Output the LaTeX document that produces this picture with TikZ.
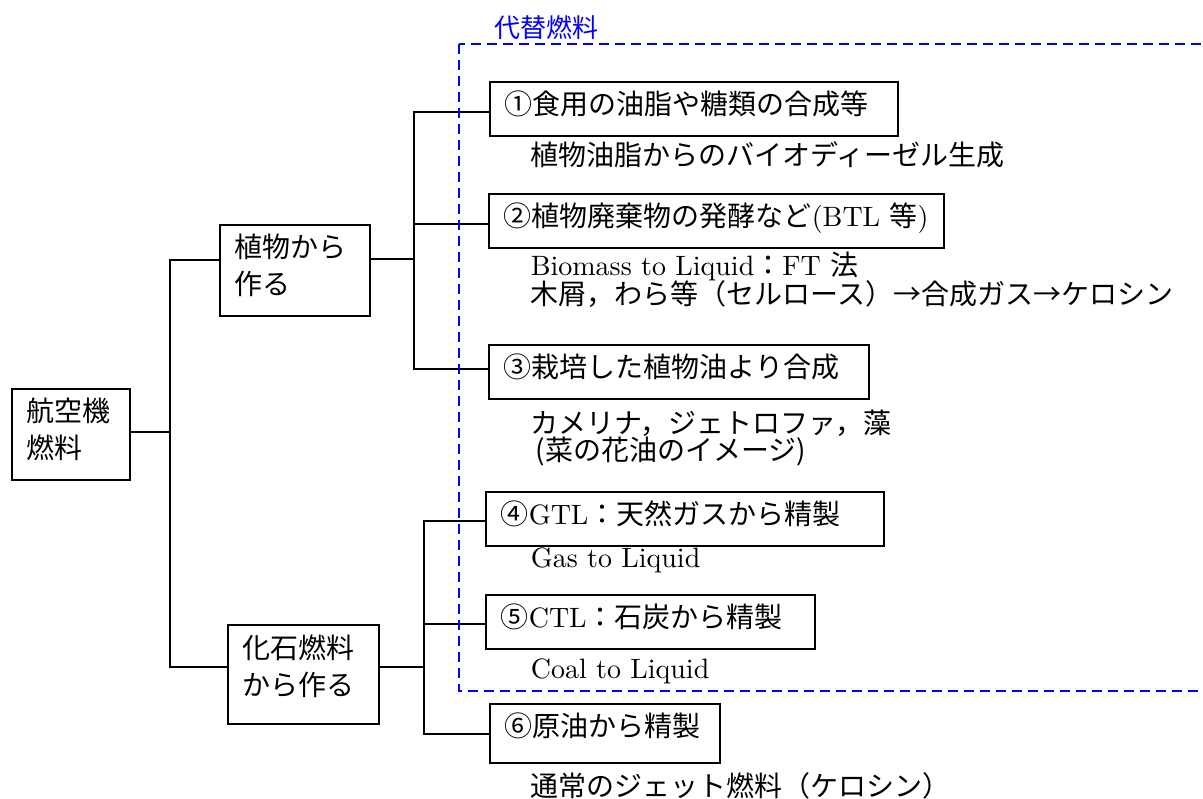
\documentclass[tikz,border=0pt]{standalone}
\usepackage{fontspec}
\setmainfont{lmroman10-regular.otf}
\newfontfamily\jp{Noto Sans CJK JP}
\newcommand{\txt}{\fontsize{28}{37}\selectfont}

\begin{document}
\begin{tikzpicture}[x=1pt, y=-1pt, line width=1.6pt,
    box/.style={draw, anchor=north west, font=\txt, align=left, inner xsep=15pt, inner ysep=0pt, text width=#1},
    leaf/.style={box=#1, minimum height=54pt, text height=22pt, text depth=10pt},
    jp/.style={font=\txt\jp},
    note/.style={anchor=base west, font=\txt, inner sep=0pt},
    alt/.style={blue, dash pattern=on 10pt off 6pt}]
    \useasboundingbox (0,0) rectangle (1203,799);

    \node[box=88, jp, minimum height=91pt, text height=24pt, text depth=49pt] (fuel) at (11,388) {航空機\\燃料};
    \node[box=120, jp, minimum height=91pt, text height=24pt, text depth=49pt] (plant) at (219,224) {植物から\\作る};
    \node[box=121, jp, minimum height=99pt, text height=24pt, text depth=56pt] (fossil) at (227,624) {化石燃料\\から作る};

    \node[leaf=378, jp] (b1) at (489,81) {①食用の油脂や糖類の合成等};
    \node[leaf=425] (b2) at (488,193) {{\jp ②植物廃棄物の発酵など}(BTL {\jp 等})};
    \node[leaf=350, jp] (b3) at (488,344) {③栽培した植物油より合成};
    \node[leaf=368] (b4) at (485,491) {{\jp ④}GTL{\jp ：天然ガスから精製}};
    \node[leaf=299] (b5) at (485,594) {{\jp ⑤}CTL{\jp ：石炭から精製}};
    \node[leaf=200, jp, minimum height=59pt, text depth=16pt] (b6) at (489,703) {⑥原油から精製};

    \node[note, jp] (n1) at (530,166) {植物油脂からのバイオディーゼル生成};
    \node[note] (n2a) at (530,276) {Biomass to Liquid{\jp ：}FT {\jp 法}};
    \node[note, jp] (n2b) at (530,305) {木屑，わら等（セルロース）→合成ガス→ケロシン};
    \node[note, jp] (n3a) at (530,434) {カメリナ，ジェトロファ，藻};
    \node[note, jp] (n3b) at (535,461) {(菜の花油のイメージ)};
    \node[note] (n4) at (530,567) {Gas to Liquid};
    \node[note] (n5) at (530,678) {Coal to Liquid};
    \node[note, jp] (n6) at (530,796) {通常のジェット燃料（ケロシン）};

    \coordinate (r0) at (170,432);
    \coordinate (r1) at (170,260);
    \coordinate (r2) at (170,667);
    \draw (fuel.east |- r0) -- (r0);
    \draw (r1 -| plant.west) -- (r1) -- (r2) -- (r2 -| fossil.west);

    \coordinate (p0) at (414,259);
    \coordinate (p1) at (414,112);
    \coordinate (p2) at (414,224);
    \coordinate (p3) at (414,369);
    \draw (plant.east |- p0) -- (p0);
    \draw (p1 -| b1.west) -- (p1) -- (p3) -- (p3 -| b3.west);
    \draw (p2) -- (p2 -| b2.west);

    \coordinate (f0) at (424,667);
    \coordinate (f1) at (424,521);
    \coordinate (f2) at (424,624);
    \coordinate (f3) at (424,734);
    \draw (fossil.east |- f0) -- (f0);
    \draw (f1 -| b4.west) -- (f1) -- (f3) -- (f3 -| b6.west);
    \draw (f2) -- (f2 -| b5.west);

    % alternative fuels
    \draw[alt] (459,44) rectangle (1215,691);
    \node[anchor=base west, inner sep=0pt, text=blue, font=\fontsize{26}{30}\selectfont\jp] (altname) at (494,38) {代替燃料};
\end{tikzpicture}
\end{document}
